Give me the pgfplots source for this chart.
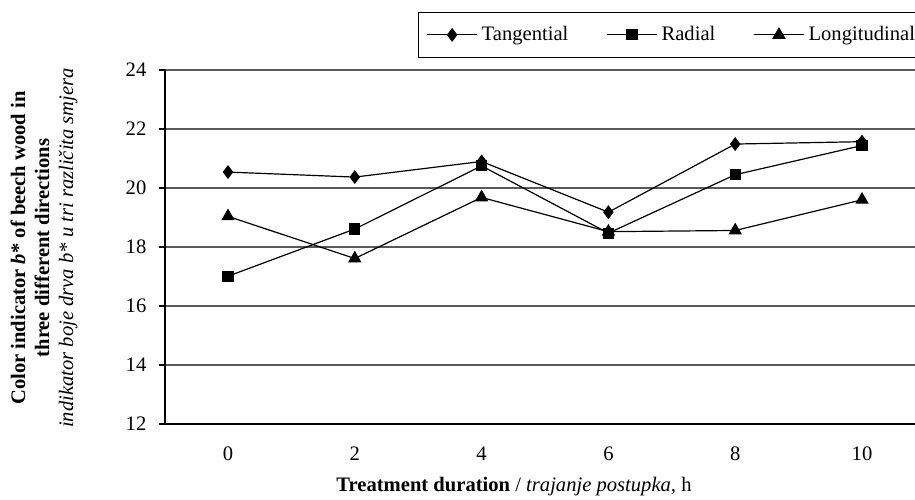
\documentclass[border=0pt]{standalone}
\usepackage{fontspec}
\setmainfont{Liberation Serif}
\usepackage{pgfplots}
\pgfplotsset{compat=1.18}

% series values
\pgfplotstableread{
x   tang   rad    long
0   20.54  17.01  19.04
2   20.37  18.61  17.61
4   20.90  20.75  19.68
6   19.18  18.47  18.52
8   21.49  20.45  18.56
10  21.57  21.44  19.60
}\bwood

\begin{document}
\fontsize{10.3}{12}\selectfont
\begin{tikzpicture}
% page = 915 x 499 px at 0.5pt per px
\path[use as bounding box] (0pt,0pt) rectangle (457.5pt,249.5pt);
\begin{axis}[
  at={(82.3pt,37.5pt)}, anchor=south west,
  scale only axis,
  width=380.4pt, height=177pt,
  xmin=-1, xmax=11,
  ymin=12, ymax=24,
  ytick={12,14,...,24},
  xtick={0,2,...,10},
  axis x line*=bottom,
  axis y line*=left,
  axis line style={-, line width=0.9pt, black},
  tick align=outside,
  major tick length=3pt,
  major x tick style={draw=none},
  ytick style={line width=0.6pt, black},
  extra x ticks={-1,1,3,5,7,9,11},
  extra x tick labels={},
  extra x tick style={grid=none, major tick length=3.5pt, major tick style={draw=black, line width=0.6pt}},
  ymajorgrids,
  major grid style={line width=0.6pt, black!65},
  /pgf/number format/assume math mode=true,
  tick label style={font=\fontsize{10.3}{12}\selectfont},
  yticklabel style={xshift=-2.5pt},
  xticklabel style={yshift=-5pt},
  clip=false,
  legend columns=3,
  legend style={
    at={(0.333,1.165)}, anchor=north west,
    draw=black, line width=0.6pt,
    inner xsep=4pt, inner ysep=5pt,
    font=\fontsize{10.3}{12}\selectfont,
    /tikz/every even column/.append style={column sep=17pt},
  },
  legend cell align=left,
  legend image code/.code={
    \draw[mark repeat=2, mark phase=2] plot coordinates {(0pt,0pt) (12.5pt,0pt) (25pt,0pt)};
  },
  every axis plot/.append style={black, line width=0.6pt},
]
\addplot[mark=diamond*, mark size=3pt, mark options={fill=black, solid}] table[x=x, y=tang] {\bwood};
\addlegendentry{Tangential}
\addplot[mark=square*, mark size=2.5pt, mark options={fill=black, solid}] table[x=x, y=rad] {\bwood};
\addlegendentry{Radial}
\addplot[mark=triangle*, mark size=3.3pt, mark options={fill=black, solid}] table[x=x, y=long] {\bwood};
\addlegendentry{Longitudinal}
\end{axis}

\node[rotate=90, align=center, inner sep=0pt] at (22pt,125.5pt)
  {\textbf{Color indicator \textit{b}* of beech wood in}\\
   \textbf{three different directions}\\
   \textit{indikator boje drva b* u tri različita smjera}};
\node[inner sep=0pt] at (257pt,6pt)
  {\textbf{Treatment duration} / \textit{trajanje postupka,} h};
\end{tikzpicture}
\end{document}
